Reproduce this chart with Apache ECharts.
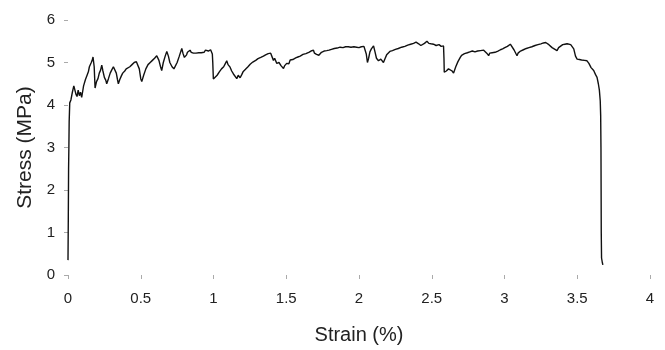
<!DOCTYPE html>
<html>
<head>
<meta charset="utf-8">
<script src="https://cdn.jsdelivr.net/npm/echarts@6/dist/echarts.min.js"></script>
<style>
html,body{margin:0;padding:0;background:#fff;}
#chart{width:665px;height:350px;}
</style>
</head>
<body>
<div id="chart"></div>
<script>
const xTicks = [0, 0.5, 1, 1.5, 2, 2.5, 3, 3.5, 4];
const yTicks = [0, 1, 2, 3, 4, 5, 6];

const strain = [
0.000,0.002,0.004,0.006,0.008,0.012,0.020,0.030,0.040,0.048,0.055,0.062,0.070,0.078,0.086,0.094,
0.100,0.107,0.113,0.120,0.126,0.133,0.140,0.147,0.153,0.160,0.166,0.172,
0.180,0.186,0.196,0.206,0.215,0.224,0.232,0.240,0.250,0.260,0.266,0.278,0.290,0.300,0.312,0.323,0.332,0.340,0.346,0.356,
0.366,0.376,0.390,0.400,0.413,0.425,0.440,0.455,0.470,0.481,0.490,0.500,0.507,0.520,0.535,0.550,0.565,0.580,0.595,0.610,
0.625,0.636,0.644,0.655,0.668,0.679,0.690,0.700,0.715,0.728,0.736,0.750,0.765,0.782,0.790,0.795,0.800,0.805,0.810,0.815,
0.821,0.827,0.833,0.839,0.847,0.855,0.862,0.870,0.880,0.890,0.899,0.908,0.916,0.925,0.935,0.945,0.955,0.965,0.972,0.980,
0.988,0.992,0.995,0.999,1.010,1.025,1.040,1.055,1.070,1.082,1.091,1.100,1.114,1.125,1.137,1.150,1.160,1.170,1.183,1.195,
1.203,1.210,1.220,1.229,1.237,1.245,1.252,1.260,1.270,1.280,1.290,1.298,1.306,1.315,1.325,1.335,1.343,1.350,1.358,1.367,
1.376,1.385,1.393,1.401,1.412,1.420,1.435,1.450,1.465,1.481,1.488,1.495,1.503,1.510,1.518,1.527,1.536,1.545,1.555,1.565,
1.572,1.580,1.588,1.596,1.605,1.615,1.625,1.635,1.645,1.655,1.662,1.670,1.678,1.687,1.694,1.700,1.708,1.715,1.724,1.733,
1.742,1.750,1.760,1.770,1.778,1.785,1.794,1.802,1.811,1.820,1.830,1.840,1.850,1.860,1.870,1.880,1.890,1.900,1.908,1.917,
1.926,1.935,1.945,1.955,1.965,1.975,1.983,1.990,2.000,2.008,2.016,2.025,2.034,2.043,2.050,2.058,2.066,2.075,2.085,2.100,
2.110,2.120,2.134,2.150,2.168,2.180,2.190,2.203,2.212,2.220,2.230,2.240,2.250,2.260,2.270,2.280,2.293,2.306,2.315,2.325,
2.335,2.345,2.355,2.365,2.375,2.385,2.392,2.398,2.410,2.425,2.433,2.450,2.467,2.480,2.495,2.512,2.530,2.550,2.565,2.581,
2.584,2.586,2.600,2.615,2.627,2.640,2.650,2.665,2.680,2.696,2.705,2.715,2.725,2.735,2.745,2.755,2.762,2.770,2.779,2.788,
2.797,2.805,2.815,2.825,2.835,2.845,2.857,2.868,2.878,2.891,2.898,2.905,2.915,2.925,2.935,2.945,2.955,2.965,2.972,2.980,
2.987,2.994,3.002,3.010,3.020,3.030,3.040,3.052,3.065,3.086,3.093,3.100,3.110,3.120,3.130,3.140,3.150,3.160,3.168,3.177,
3.188,3.200,3.210,3.220,3.230,3.240,3.250,3.260,3.268,3.275,3.283,3.292,3.305,3.315,3.327,3.340,3.361,3.372,3.384,3.400,
3.415,3.430,3.441,3.455,3.465,3.476,3.488,3.499,3.515,3.530,3.550,3.567,3.580,3.595,3.613,3.625,3.636,3.645,3.652,3.658,
3.661,3.663,3.664,3.665,3.667,3.672,3.676
];

const stress = [
0.35,1.30,2.50,3.00,3.60,4.05,4.12,4.30,4.45,4.47,4.25,4.20,4.35,4.22,4.30,4.18,
4.30,4.45,4.42,4.60,4.58,4.72,4.78,4.90,4.88,5.00,5.05,5.13,
4.90,4.40,4.55,4.62,4.75,4.82,4.94,4.80,4.65,4.58,4.50,4.62,4.75,4.82,4.90,4.92,4.75,4.60,4.50,4.60,
4.68,4.75,4.80,4.85,4.82,4.90,4.95,5.00,5.02,5.06,4.85,4.62,4.55,4.70,4.85,4.95,5.00,5.05,5.10,5.16,
5.05,4.90,4.81,5.00,5.15,5.26,5.15,5.00,4.90,4.85,4.83,5.00,5.15,5.33,5.22,5.20,5.12,5.10,5.16,5.18,
5.24,5.25,5.22,5.29,5.24,5.26,5.22,5.25,5.22,5.26,5.23,5.27,5.23,5.26,5.24,5.29,5.25,5.27,5.24,5.30,
5.33,5.20,5.00,4.61,4.62,4.70,4.78,4.85,4.90,4.98,5.04,4.95,4.89,4.80,4.73,4.72,4.62,4.70,4.64,4.72,
4.78,4.76,4.84,4.86,4.90,4.91,4.96,4.97,5.01,5.00,5.05,5.04,5.09,5.08,5.12,5.11,5.15,5.14,5.18,5.17,
5.21,5.19,5.22,5.22,5.05,5.10,4.98,5.00,4.92,4.86,4.92,4.90,4.98,5.00,4.97,5.06,5.03,5.07,5.05,5.11,
5.08,5.13,5.11,5.15,5.13,5.19,5.17,5.21,5.19,5.24,5.21,5.27,5.25,5.29,5.22,5.25,5.19,5.23,5.17,5.20,
5.24,5.22,5.27,5.25,5.28,5.24,5.29,5.27,5.31,5.29,5.33,5.31,5.34,5.32,5.36,5.33,5.35,5.33,5.37,5.35,
5.37,5.33,5.36,5.33,5.37,5.35,5.36,5.32,5.35,5.33,5.37,5.35,5.38,5.39,5.20,5.00,5.10,5.25,5.32,5.39,
5.25,5.10,5.04,5.08,5.00,5.10,5.18,5.22,5.26,5.24,5.28,5.27,5.31,5.29,5.33,5.32,5.36,5.34,5.38,5.37,
5.41,5.39,5.43,5.41,5.45,5.44,5.48,5.50,5.44,5.40,5.39,5.45,5.50,5.45,5.44,5.43,5.40,5.42,5.38,5.39,
5.10,4.77,4.80,4.85,4.88,4.80,4.75,4.90,5.02,5.12,5.17,5.15,5.21,5.19,5.23,5.21,5.25,5.23,5.27,5.28,
5.25,5.29,5.27,5.31,5.28,5.30,5.29,5.32,5.22,5.16,5.22,5.20,5.23,5.19,5.24,5.23,5.27,5.26,5.30,5.28,
5.32,5.31,5.35,5.34,5.38,5.39,5.43,5.47,5.30,5.16,5.22,5.24,5.27,5.26,5.30,5.28,5.33,5.31,5.35,5.33,
5.37,5.35,5.40,5.38,5.42,5.40,5.44,5.42,5.46,5.44,5.47,5.49,5.42,5.38,5.35,5.32,5.28,5.35,5.39,5.42,
5.43,5.44,5.46,5.42,5.38,5.32,5.15,5.08,5.07,5.06,5.05,5.04,4.98,4.88,4.81,4.72,4.65,4.50,4.35,4.10,
3.75,3.00,2.00,1.00,0.40,0.30,0.24
];

const points = strain.map((s, i) => [s, stress[i]]);
const font = '"Liberation Sans", Arial, sans-serif';

const chart = echarts.init(document.getElementById('chart'), null, {renderer: 'canvas'});
chart.setOption({
  animation: false,
  backgroundColor: '#ffffff',
  grid: {left: 68, right: 15, top: 20, bottom: 73, containLabel: false},
  xAxis: {
    type: 'value',
    min: xTicks[0], max: xTicks[xTicks.length - 1], interval: 0.5,
    name: 'Strain (%)',
    nameLocation: 'middle',
    nameGap: 50,
    nameTextStyle: {fontFamily: font, fontSize: 20, color: '#222'},
    axisLine: {show: false},
    axisTick: {show: true, length: 4, lineStyle: {color: '#aaa', width: 1}},
    axisLabel: {margin: 16, fontFamily: font, fontSize: 15, color: '#222',
      formatter: v => String(v)},
    splitLine: {show: false}
  },
  yAxis: {
    type: 'value',
    min: yTicks[0], max: yTicks[yTicks.length - 1], interval: 1,
    name: 'Stress (MPa)',
    nameLocation: 'middle',
    nameGap: 28,
    nameRotate: 90,
    nameTextStyle: {fontFamily: font, fontSize: 21, color: '#222'},
    axisLine: {show: false},
    axisTick: {show: true, length: 4, lineStyle: {color: '#aaa', width: 1}},
    axisLabel: {margin: 13, fontFamily: font, fontSize: 15, color: '#222'},
    splitLine: {show: false}
  },
  series: [{
    type: 'line',
    data: points,
    showSymbol: false,
    symbol: 'none',
    lineStyle: {color: '#111', width: 1.4},
    z: 3
  }]
});
</script>
</body>
</html>
